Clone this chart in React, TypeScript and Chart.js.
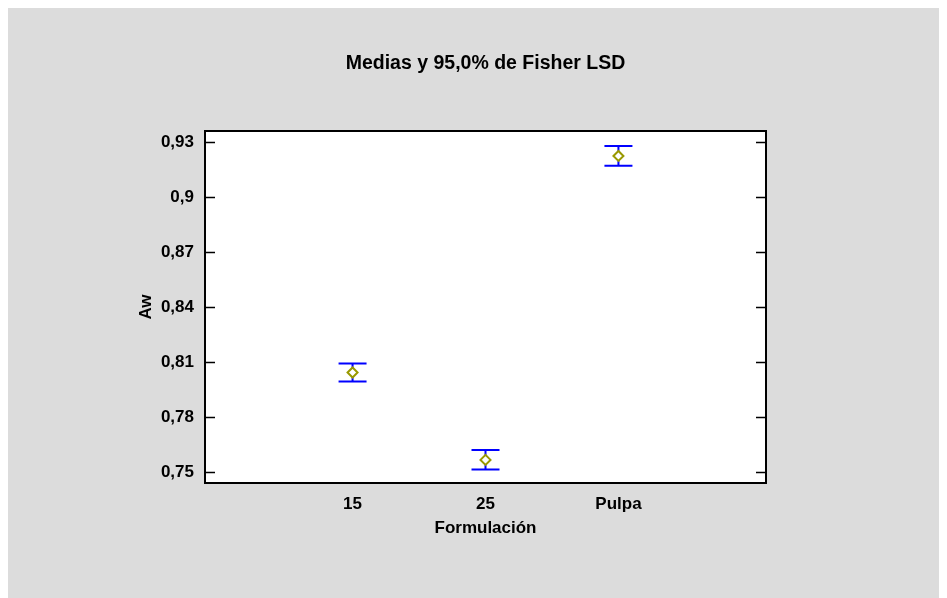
import React, { useEffect, useRef } from "react";
import { Chart, registerables } from "chart.js";

Chart.register(...registerables);

const chartTitle = "Medias y 95,0% de Fisher LSD";
const xAxisTitle = "Formulación";
const yAxisTitle = "Aw";
const categories = ["15", "25", "Pulpa"];
const means = [0.8044, 0.7568, 0.9224];
const lower = [0.7995, 0.7515, 0.9171];
const upper = [0.8093, 0.7622, 0.9278];
const yTicks = [0.75, 0.78, 0.81, 0.84, 0.87, 0.9, 0.93];
const yMin = 0.7442;
const yMax = 0.936;
const xMin = -0.11;
const xMax = 4.11;

const FONT = "'Liberation Sans', Arial, Helvetica, sans-serif";
const BG = "#dcdcdc";

const bgPlugin = {
  id: "bgPlugin",
  beforeDraw(chart: any) {
    const { ctx, chartArea } = chart;
    ctx.save();
    ctx.fillStyle = BG;
    ctx.fillRect(0, 0, chart.width, chart.height);
    ctx.fillStyle = "#ffffff";
    ctx.fillRect(chartArea.left, chartArea.top, chartArea.right - chartArea.left, chartArea.bottom - chartArea.top);
    ctx.restore();
  },
};

const errorBarPlugin = {
  id: "errorBarPlugin",
  beforeDatasetsDraw(chart: any) {
    const { ctx } = chart;
    const xs = chart.scales.x;
    const ys = chart.scales.y;
    ctx.save();
    ctx.strokeStyle = "#0000ff";
    ctx.lineWidth = 2;
    for (let i = 0; i < categories.length; i++) {
      const x = xs.getPixelForValue(i + 1);
      const yl = ys.getPixelForValue(lower[i]);
      const yu = ys.getPixelForValue(upper[i]);
      const hw = 14;
      ctx.beginPath();
      ctx.moveTo(x, yl);
      ctx.lineTo(x, yu);
      ctx.moveTo(x - hw, yl);
      ctx.lineTo(x + hw, yl);
      ctx.moveTo(x - hw, yu);
      ctx.lineTo(x + hw, yu);
      ctx.stroke();
    }
    ctx.restore();
  },
};

const framePlugin = {
  id: "framePlugin",
  afterDraw(chart: any) {
    const { ctx, chartArea } = chart;
    const ys = chart.scales.y;
    ctx.save();
    ctx.strokeStyle = "#000000";
    ctx.lineWidth = 1.5;
    const tl = 10;
    for (const v of yTicks) {
      const y = Math.round(ys.getPixelForValue(v)) + 0.5;
      ctx.beginPath();
      ctx.moveTo(chartArea.left, y);
      ctx.lineTo(chartArea.left + tl, y);
      ctx.moveTo(chartArea.right, y);
      ctx.lineTo(chartArea.right - tl, y);
      ctx.stroke();
    }
    ctx.lineWidth = 2;
    ctx.strokeRect(chartArea.left, chartArea.top, chartArea.right - chartArea.left, chartArea.bottom - chartArea.top);
    ctx.fillStyle = "#000000";
    ctx.font = `bold 19.5px ${FONT}`;
    ctx.textAlign = "center";
    ctx.textBaseline = "middle";
    ctx.fillText(chartTitle, (chartArea.left + chartArea.right) / 2, 56);
    ctx.restore();
  },
};

export default function App() {
  const ref = useRef<HTMLCanvasElement | null>(null);
  useEffect(() => {
    document.documentElement.style.overflow = "hidden";
    const canvas = ref.current;
    if (!canvas) return;
    const chart = new Chart(canvas, {
      type: "scatter",
      data: {
        datasets: [
          {
            label: "Medias",
            data: means.map((m, i) => ({ x: i + 1, y: m })),
            pointStyle: "rectRot",
            pointRadius: 5,
            pointBorderWidth: 2,
            pointBorderColor: "#999900",
            pointBackgroundColor: "#ffffff",
            showLine: false,
          },
        ],
      },
      options: {
        responsive: false,
        animation: false,
        devicePixelRatio: 1,
        layout: { padding: { left: 0, right: 179, top: 123, bottom: 0 } },
        plugins: {
          legend: { display: false },
          title: { display: false },
          tooltip: { enabled: false },
        },
        scales: {
          x: {
            type: "linear",
            position: "bottom",
            min: xMin,
            max: xMax,
            afterBuildTicks: (s: any) => {
              s.ticks = categories.map((_, i) => ({ value: i + 1 }));
            },
            afterFit: (s: any) => {
              s.height = 115;
            },
            grid: { display: false, drawTicks: false },
            border: { display: false },
            ticks: {
              padding: 11,
              color: "#000000",
              font: { family: FONT, size: 17, weight: "bold" },
              callback: (v: any) => categories[Math.round(Number(v)) - 1] ?? "",
            },
            title: {
              display: true,
              text: xAxisTitle,
              color: "#000000",
              font: { family: FONT, size: 17, weight: "bold" },
              padding: { top: 0, bottom: 59 },
            },
          },
          y: {
            type: "linear",
            position: "left",
            min: yMin,
            max: yMax,
            afterBuildTicks: (s: any) => {
              s.ticks = yTicks.map((v) => ({ value: v }));
            },
            afterFit: (s: any) => {
              s.width = 197;
            },
            grid: { display: false, drawTicks: false },
            border: { display: false },
            ticks: {
              padding: 11,
              color: "#000000",
              font: { family: FONT, size: 17, weight: "bold" },
              callback: (v: any) => String(Number(Number(v).toFixed(2))).replace(".", ","),
            },
            title: {
              display: true,
              text: yAxisTitle,
              color: "#000000",
              font: { family: FONT, size: 17, weight: "bold" },
              padding: { top: 128, bottom: 0 },
            },
          },
        },
      },
      plugins: [bgPlugin, errorBarPlugin, framePlugin],
    } as any);
    return () => chart.destroy();
  }, []);
  return (
    <div style={{ width: 937, height: 590, background: BG }}>
      <canvas ref={ref} width={937} height={590} style={{ display: "block" }} />
    </div>
  );
}
